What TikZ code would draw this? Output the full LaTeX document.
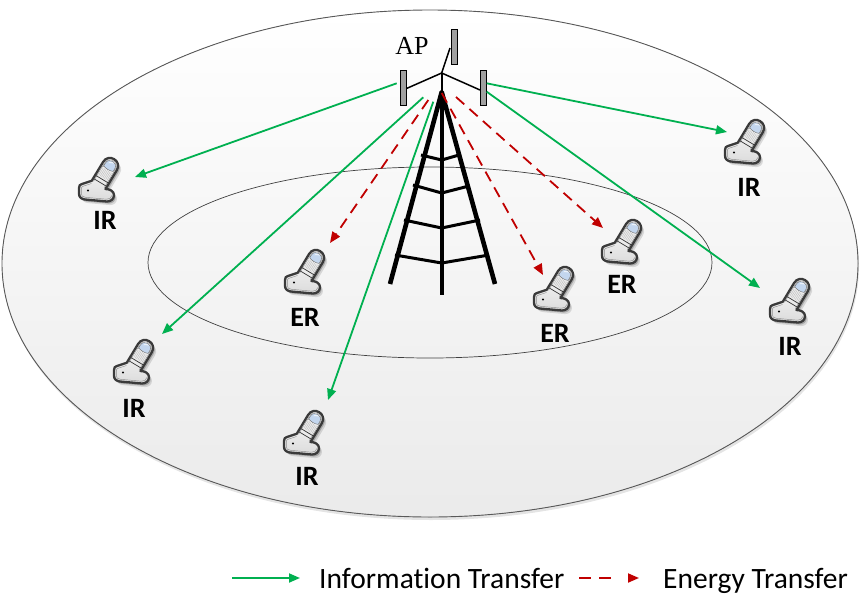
\documentclass[tikz,border=0pt]{standalone}
\usepackage{fontspec}
\setmainfont{Liberation Serif}
\newfontfamily\lblfont{Carlito}[Ligatures=NoCommon]
\usetikzlibrary{arrows.meta}

\definecolor{infogreen}{HTML}{00B050}
\definecolor{energyred}{HTML}{C00000}
\definecolor{phoneedge}{HTML}{3A3A3A}
\definecolor{capblue}{HTML}{C3D6EE}
\definecolor{mastgray}{HTML}{A0A0A0}

% outline of the handset icon (base + tilted flip part), local pixel units, y downwards
\newcommand\phoneoutline{(4,28) -- (13.8,24.7) -- (25.14,5.88)
  .. controls (30.64,-3.26) and (44.36,4.98) .. (38.86,14.12)
  -- (27.5,33) .. controls (31.5,33) and (36,35) .. (36,39)
  .. controls (36,43) and (33,45.5) .. (29,45.5) -- (7,43.5)
  .. controls (3,43) and (1,41) .. (1,37.5) -- (1,32)
  .. controls (1,29.5) and (2,28.3) .. (4,28) -- cycle}

\tikzset{
  phone/.pic={
    % soft drop shadow
    \begin{scope}[shift={(3,3.6)}]
      \fill[black,opacity=.12] \phoneoutline;
    \end{scope}
    \begin{scope}[shift={(1.7,2.1)}]
      \fill[black,opacity=.22] \phoneoutline;
    \end{scope}
    % body
    \draw[phoneedge,line width=2.3pt,line join=round,top color=white,bottom color=black!14] \phoneoutline;
    % inner rim of the base
    \draw[black!45,line width=.45pt] (13.5,27.5) -- (5,30.3) .. controls (3.8,30.6) and (3.3,31.5) .. (3.3,33)
      -- (3.3,37.5) .. controls (3.3,40) and (4.5,41) .. (7.5,41.3) -- (28.5,43.2)
      .. controls (31.5,43.3) and (33.5,42) .. (33.8,39.5);
    \fill[black] (10,34.5) circle[radius=1.15pt];
    % flip part, drawn in its own tilted frame
    \begin{scope}[shift={(32,10)},rotate=-31]
      \draw[black!45,line width=.45pt] (-6.3,21.5) -- (-6.3,0) .. controls (-6.3,-8.4) and (6.3,-8.4) .. (6.3,0) -- (6.3,21.5);
      \draw[black!55,line width=.5pt,fill=capblue] (-5.5,3) -- (-5.5,0) .. controls (-5.5,-7.3) and (5.5,-7.3) .. (5.5,0)
        -- (5.5,3) .. controls (2.5,4.5) and (-2.5,4.5) .. cycle;
      \fill[white,opacity=.7] (-3,-1.5) .. controls (-3,-4.5) and (1,-5.3) .. (2.3,-4.2) .. controls (0,-3.6) and (-1.8,-2.3) .. cycle;
      \fill[black!8] (-5.6,5) rectangle (5.6,13.8);
      \draw[black!30,line width=.25pt,step=1.6] (-5.6,5) grid (5.6,13.8);
      \draw[phoneedge,line width=.75pt] (-7.3,15.4) -- (7.3,15.4);
      \draw[phoneedge,line width=.75pt] (-7.4,19.2) -- (7.4,19.2);
    \end{scope}
  },
  info/.style={infogreen,line width=1.8pt,-{Triangle[length=11pt,width=9pt]}},
  energy/.style={energyred,line width=1.8pt,dash pattern=on 11pt off 7pt,-{Triangle[length=11pt,width=9pt]}},
  legenergy/.style={energy,dash pattern=on 12pt off 8pt on 12pt off 40pt},
  rxlabel/.style={font=\lblfont\bfseries\fontsize{28}{33}\selectfont,inner sep=0pt},
  legendtext/.style={font=\lblfont\fontsize{29.5}{35}\selectfont,inner sep=0pt,anchor=base west},
  leg/.style={line width=4.6pt,line cap=butt},
  rung/.style={line width=3pt,line join=round},
  wire/.style={line width=1.5pt},
  antenna/.style={fill=mastgray,draw=black,line width=.6pt}
}

\begin{document}
\begin{tikzpicture}[x=1pt,y=-1pt]
\useasboundingbox (0,0) rectangle (860,595);

% coverage areas
\fill[black!30,opacity=.35] (431,266.5) ellipse[x radius=428pt,y radius=253.5pt];
\fill[top color=white,bottom color=black!8] (430,263.5) ellipse[x radius=428pt,y radius=253.5pt];
\draw[black!65,line width=.9pt] (430,263.5) ellipse[x radius=428pt,y radius=253.5pt];
\draw[black!75,line width=.7pt] (430,262.5) ellipse[x radius=282pt,y radius=95.5pt];

% access point tower
\draw[leg,line join=round] (390,284) -- (441.7,92) -- (495,284);
\draw[line width=4.2pt] (441.7,92) -- (441.7,295);
\draw[line width=1.8pt] (441.7,73) -- (441.7,95);
\draw[rung] (421,155) -- (441.7,160) -- (459,155);
\draw[rung] (413,185) -- (441.7,193) -- (469,186);
\draw[rung] (404,220) -- (441.7,228) -- (480,220);
\draw[rung] (395,255) -- (441.7,263) -- (489,255);
\draw[wire] (450,48) -- (441.7,73) -- (406.5,88.5);
\draw[wire] (441.7,73) -- (480,90);
\draw[antenna] (400.5,70.5) rectangle (406.5,105);
\draw[antenna] (480,70.5) rectangle (486,105);
\draw[antenna] (451.5,29.5) rectangle (457.5,64);
\node[font=\fontsize{26}{31}\selectfont,inner sep=0pt] (ap) at (412,46) {AP};

% handsets
\pic at (78,156) {phone};
\pic at (724,118) {phone};
\pic at (284,248) {phone};
\pic at (533,265) {phone};
\pic at (601,218) {phone};
\pic at (769,277) {phone};
\pic at (113,338) {phone};
\pic at (283,409) {phone};

\node[rxlabel] (ir1) at (105,220) {IR};
\node[rxlabel] (ir2) at (749,187) {IR};
\node[rxlabel] (er1) at (305,317) {ER};
\node[rxlabel] (er2) at (555,333) {ER};
\node[rxlabel] (er3) at (622,284) {ER};
\node[rxlabel] (ir3) at (790,346) {IR};
\node[rxlabel] (ir4) at (134,408) {IR};
\node[rxlabel] (ir5) at (307,476) {IR};

% beam end points
\coordinate (aL)  at (396.7,83.3);
\coordinate (aL2) at (423.3,97.3);
\coordinate (aL3) at (433.3,101.7);
\coordinate (aR)  at (486.7,83.3);
\coordinate (aR2) at (486.7,91.7);
\coordinate (eL)  at (428.3,100);
\coordinate (eC)  at (441.7,93);
\coordinate (eR)  at (456,97);
\coordinate (tIR1) at (135,177);
\coordinate (tIR2) at (727,132);
\coordinate (tIR3) at (760,288);
\coordinate (tIR4) at (162,334);
\coordinate (tIR5) at (328,400);
\coordinate (tER1) at (330,243);
\coordinate (tER2) at (543,275);
\coordinate (tER3) at (603,228);

% information beams
\draw[info] (aL) -- (tIR1);
\draw[info] (aR) -- (tIR2);
\draw[info] (aR2) -- (tIR3);
\draw[info] (aL2) -- (tIR4);
\draw[info] (aL3) -- (tIR5);

% energy beams
\draw[energy] (eL) -- (tER1);
\draw[energy] (eC) -- (tER2);
\draw[energy] (eR) -- (tER3);

% legend
\coordinate (lgA) at (232,578);
\coordinate (lgB) at (300,578);
\coordinate (lgC) at (579,578);
\coordinate (lgD) at (639,578);
\draw[info] (lgA) -- (lgB);
\node[legendtext] (lgInfo) at (319,588) {Information Transfer};
\draw[legenergy] (lgC) -- (lgD);
\node[legendtext] (lgEnergy) at (663,588) {Energy Transfer};
\end{tikzpicture}
\end{document}
